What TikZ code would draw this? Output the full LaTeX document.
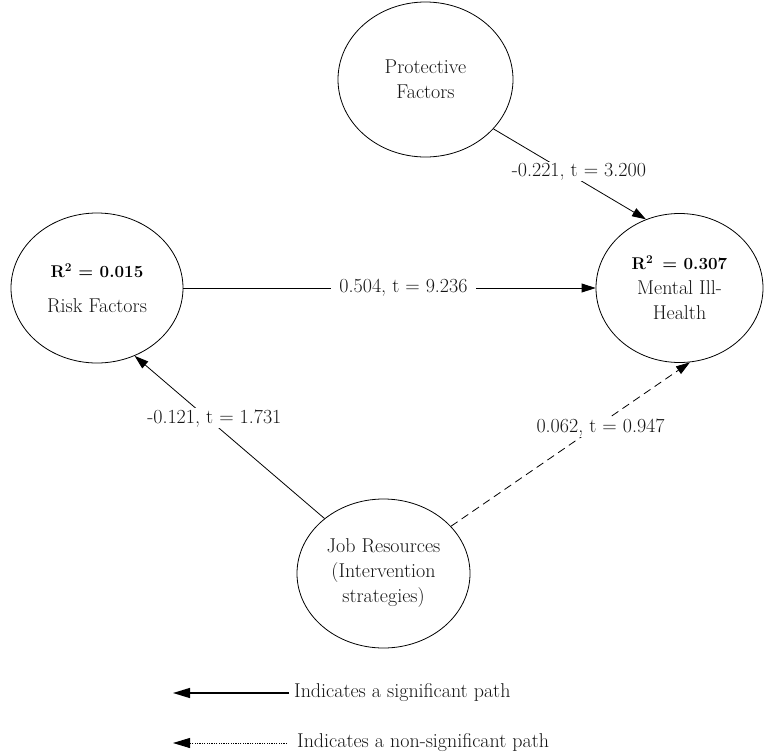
\documentclass[tikz,border=0pt]{standalone}
\usepackage{fontspec}
\usetikzlibrary{arrows.meta,shapes.geometric}
\newcommand{\rsq}[1]{{\color{black}\fontsize{17}{25}\selectfont\textbf{#1}}}
\begin{document}
\begin{tikzpicture}[x=1pt,y=-1pt,
  every node/.style={font=\fontsize{20}{25}\selectfont, text=black!92},
  construct/.style={draw=black, ellipse, line width=0.8pt, inner sep=0pt, align=center},
  sigpath/.style={draw=black, line width=0.8pt, -{Triangle[length=14pt,width=9pt]}},
  nspath/.style={sigpath, dash pattern=on 8pt off 5pt},
  coef/.style={fill=white, inner xsep=2pt, inner ysep=1pt},
  legsolid/.style={draw=black, line width=1.3pt, -{Triangle[length=17pt,width=10pt]}},
  legdotted/.style={draw=black, line width=0.9pt, dash pattern=on 1.2pt off 1.2pt,
    -{Triangle[length=17pt,width=10pt]}},
]
\useasboundingbox (0,0) rectangle (764,755);

% latent constructs
\node[construct, minimum width=175pt, minimum height=155pt] (prot) at (425.5,79.5)
  {Protective\\Factors};
\node[construct, minimum width=172pt, minimum height=150pt] (risk) at (97,288)
  {\rsq{R\textsuperscript{2} = 0.015}\\[10pt]Risk Factors};
\node[construct, minimum width=167pt, minimum height=149pt] (mih) at (679.5,288)
  {\rsq{R\textsuperscript{2}\, = 0.307}\\Mental Ill-\\Health};
\node[construct, minimum width=173pt, minimum height=149pt] (job) at (383.5,573.5)
  {Job Resources\\(Intervention\\strategies)};

% structural paths
\draw[sigpath] (prot.-36) -- node[coef, pos=0.56, yshift=8pt] {-0.221, t = 3.200} (mih.116);
\draw[sigpath] (risk.east) -- node[coef, pos=0.534, inner xsep=8pt] {0.504, t = 9.236} (mih.west);
\draw[sigpath] (job.137.5) -- node[coef, pos=0.58, yshift=6pt] {-0.121, t = 1.731} (risk.-61.5);
\draw[nspath] (job.35.3) -- node[coef, pos=0.626, yshift=-4pt] {0.062, t = 0.947} (mih.-82.7);

% legend
\node[anchor=west, inner xsep=5pt] (lsig) at (289,693) {Indicates a significant path};
\coordinate (lsigend) at (173,693);
\draw[legsolid] (lsig.west) -- (lsigend);
\node[anchor=west, inner xsep=10pt] (lns) at (287,743) {Indicates a non-significant path};
\coordinate (lnsend) at (173,743);
\draw[legdotted] (lns.west) -- (lnsend);
\end{tikzpicture}
\end{document}
